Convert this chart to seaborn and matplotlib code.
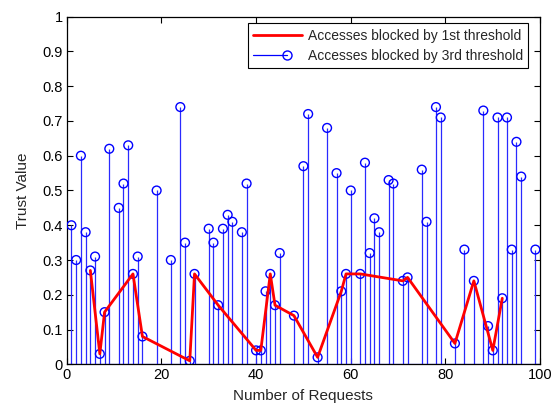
import numpy as np
import pandas as pd
import matplotlib
matplotlib.use("Agg")
import matplotlib.pyplot as plt
import seaborn as sns
from matplotlib.legend_handler import HandlerLine2DCompound
from matplotlib.lines import Line2D

# ---- data ----
request_x = [1, 2, 3, 4, 5, 6, 7, 8, 9, 11, 12, 13, 14, 15, 16, 19, 22, 24, 25, 26, 27,
             30, 31, 32, 33, 34, 35, 37, 38, 40, 41, 42, 43, 44, 45, 48, 50, 51, 53, 55,
             57, 58, 59, 60, 62, 63, 64, 65, 66, 68, 69, 71, 72, 75, 76, 78, 79, 82, 84,
             86, 88, 89, 90, 91, 92, 93, 94, 95, 96, 99]
trust_3rd = [0.40, 0.30, 0.60, 0.38, 0.27, 0.31, 0.03, 0.15, 0.62, 0.45, 0.52, 0.63, 0.26,
             0.31, 0.08, 0.50, 0.30, 0.74, 0.35, 0.01, 0.26, 0.39, 0.35, 0.17, 0.39, 0.43,
             0.41, 0.38, 0.52, 0.04, 0.04, 0.21, 0.26, 0.17, 0.32, 0.14, 0.57, 0.72, 0.02,
             0.68, 0.55, 0.21, 0.26, 0.50, 0.26, 0.58, 0.32, 0.42, 0.38, 0.53, 0.52, 0.24,
             0.25, 0.56, 0.41, 0.74, 0.71, 0.06, 0.33, 0.24, 0.73, 0.11, 0.04, 0.71, 0.19,
             0.71, 0.33, 0.64, 0.54, 0.33]
red_x = [5, 7, 8, 14, 16, 26, 27, 32, 40, 41, 43, 44, 48, 53, 58, 59, 62, 71, 72, 82, 86, 90, 92]
trust_1st = [0.27, 0.03, 0.15, 0.26, 0.08, 0.01, 0.26, 0.17, 0.04, 0.04, 0.26, 0.17, 0.14,
             0.02, 0.21, 0.26, 0.26, 0.24, 0.25, 0.06, 0.24, 0.04, 0.19]
label_1st = "Accesses blocked by 1st threshold"
label_3rd = "Accesses blocked by 3rd threshold"
x_ticks = [0, 20, 40, 60, 80, 100]
y_ticks = [0, 0.1, 0.2, 0.3, 0.4, 0.5, 0.6, 0.7, 0.8, 0.9, 1]
y_ticklabels = ["0", "0.1", "0.2", "0.3", "0.4", "0.5", "0.6", "0.7", "0.8", "0.9", "1"]

df3 = pd.DataFrame({"x": request_x, "y": trust_3rd})
df1 = pd.DataFrame({"x": red_x, "y": trust_1st})

sns.set_theme(style="white")
plt.rcParams["font.family"] = ["Liberation Sans", "DejaVu Sans"]

fig = plt.figure(figsize=(5.58, 4.05), dpi=100)
ax = fig.add_axes([0.1195, 0.1005, 0.8485, 0.8583])

# stems
ax.vlines(df3["x"], 0, df3["y"], colors="#2a2aff", linewidth=0.9, zorder=2)
ax.axhline(0, color="#2a2aff", linewidth=0.9, zorder=2)
sns.scatterplot(data=df3, x="x", y="y", ax=ax, marker="o", s=40,
                facecolor="none", edgecolor="#0000ff", linewidth=1.0, zorder=3, legend=False)
# red line
sns.lineplot(data=df1, x="x", y="y", ax=ax, sort=False, estimator=None,
             color="#ff0000", linewidth=2.0, zorder=4, legend=False)

ax.set_xlim(0, 100)
ax.set_ylim(0, 1)
ax.set_xticks(x_ticks)
ax.set_xticklabels([str(t) for t in x_ticks])
ax.set_yticks(y_ticks)
ax.set_yticklabels(y_ticklabels)
ax.set_xlabel("Number of Requests", fontsize=11, labelpad=5)
ax.set_ylabel("Trust Value", fontsize=11, labelpad=9)
ax.tick_params(direction="in", length=4, width=0.8, top=True, right=True,
               bottom=True, left=True, labelsize=10.5, colors="black", pad=3)
for s in ax.spines.values():
    s.set_visible(True)
    s.set_color("black")
    s.set_linewidth(0.9)
ax.grid(False)


class MarkerAtTwoThirds(HandlerLine2DCompound):
    def get_xdata(self, legend, xdescent, ydescent, width, height, fontsize):
        x0 = -xdescent
        xm = x0 + 0.69 * width
        return np.array([x0, xm]), np.array([xm])


h1 = Line2D([], [], color="#ff0000", linewidth=2.0)
h2 = Line2D([], [], color="#0000ff", linewidth=0.9, marker="o", markersize=6.5,
            markerfacecolor="none", markeredgecolor="#0000ff")
leg = ax.legend([h1, h2], [label_1st, label_3rd], loc="upper right",
                bbox_to_anchor=(0.975, 0.981), borderaxespad=0, fancybox=False,
                fontsize=10, handlelength=3.5, handletextpad=0.4, borderpad=0.4,
                labelspacing=0.42, handler_map={h2: MarkerAtTwoThirds()})
leg.get_frame().set_edgecolor("black")
leg.get_frame().set_linewidth(0.8)
leg.get_frame().set_alpha(1)

fig.savefig("out.png", dpi=100)
